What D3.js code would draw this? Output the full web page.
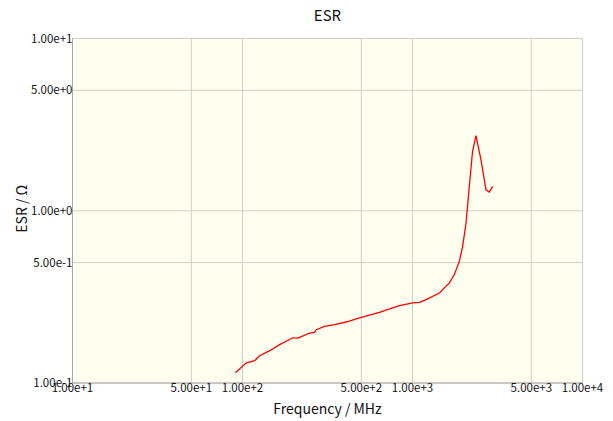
<!DOCTYPE html>
<html>
<head>
<meta charset="utf-8">
<script src="https://cdn.jsdelivr.net/npm/d3@7"></script>
<style>
  body { margin: 0; background: #fff; }
  text { font-family: "Noto Sans CJK JP", "DejaVu Sans", sans-serif; fill: #111; }
</style>
</head>
<body>
<div id="chart"></div>
<script>
// ESR vs frequency
let freq = [90.8, 105.4, 118, 126.2, 144.5, 165.3, 198, 211.6, 248, 265, 271.5, 304, 347.7, 407, 487.6, 639, 837, 1003, 1099, 1202, 1439, 1648, 1762, 1885, 1972, 2065, 2158, 2255, 2362, 2529, 2705, 2830, 2958];
let esr = [0.1146, 0.131, 0.135, 0.144, 0.154, 0.167, 0.183, 0.182, 0.195, 0.197, 0.204, 0.213, 0.218, 0.226, 0.239, 0.257, 0.281, 0.292, 0.294, 0.305, 0.333, 0.381, 0.426, 0.508, 0.621, 0.849, 1.384, 2.207, 2.73, 1.976, 1.324, 1.283, 1.384];

let xTicks = [10, 50, 100, 500, 1000, 5000, 10000];
let yTicks = [0.1, 0.5, 1, 5, 10];

function go(){
    let width = 613,
        height = 421;
    let margin = {left: 72.5, top: 38.5, right: 30.5, bottom: 38};

    let svg = d3.select("#chart")
        .append("svg")
        .attr("width", width)
        .attr("height", height);

    let x = d3.scaleLog().domain([10, 10000]).range([margin.left, width - margin.right]);
    let y = d3.scaleLog().domain([0.1, 10]).range([height - margin.bottom, margin.top]);

    // plot background
    svg.append("rect")
        .attr("x", x(10)).attr("y", y(10))
        .attr("width", x(10000) - x(10))
        .attr("height", y(0.1) - y(10))
        .attr("fill", "#fffff0");

    // grid
    svg.append("g")
        .selectAll("line")
        .data(xTicks)
        .enter().append("line")
        .attr("x1", d => x(d)).attr("x2", d => x(d))
        .attr("y1", y(10)).attr("y2", y(0.1))
        .attr("stroke", "#cfcfc8").attr("stroke-width", 1);

    svg.append("g")
        .selectAll("line")
        .data(yTicks)
        .enter().append("line")
        .attr("x1", x(10)).attr("x2", x(10000))
        .attr("y1", d => y(d)).attr("y2", d => y(d))
        .attr("stroke", "#cfcfc8").attr("stroke-width", 1);

    // left + bottom axes
    svg.append("line")
        .attr("x1", x(10)).attr("x2", x(10))
        .attr("y1", y(10)).attr("y2", y(0.1))
        .attr("stroke", "#a8a8a8");
    svg.append("line")
        .attr("x1", x(10)).attr("x2", x(10000))
        .attr("y1", y(0.1)).attr("y2", y(0.1))
        .attr("stroke", "#a8a8a8");

    let fmt = d => d.toExponential(2).replace("e+", "e+").replace(/e(\d)/, "e+$1");

    svg.append("g")
        .selectAll("text")
        .data(yTicks)
        .enter().append("text")
        .attr("x", x(10))
        .attr("y", d => y(d) + 4)
        .attr("text-anchor", "end")
        .attr("font-size", 11.5)
        .text(fmt);

    svg.append("g")
        .selectAll("text")
        .data(xTicks)
        .enter().append("text")
        .attr("x", d => x(d))
        .attr("y", y(0.1) + 9)
        .attr("text-anchor", "middle")
        .attr("font-size", 11.5)
        .text(fmt);

    // the curve
    let line = d3.line()
        .x((d, i) => x(freq[i]))
        .y(d => y(d));

    svg.append("path")
        .datum(esr)
        .attr("d", line)
        .attr("fill", "none")
        .attr("stroke", "#ff0000")
        .attr("stroke-width", 1.3);

    // titles
    svg.append("text")
        .attr("x", (x(10) + x(10000)) / 2)
        .attr("y", 21)
        .attr("text-anchor", "middle")
        .attr("font-size", 15)
        .text("ESR");

    svg.append("text")
        .attr("x", (x(10) + x(10000)) / 2)
        .attr("y", 414)
        .attr("text-anchor", "middle")
        .attr("font-size", 14)
        .text("Frequency / MHz");

    svg.append("text")
        .attr("transform", "translate(27," + (y(1) - 2) + ") rotate(-90)")
        .attr("text-anchor", "middle")
        .attr("font-size", 14)
        .text("ESR / Ω");
}
go();
</script>
</body>
</html>
